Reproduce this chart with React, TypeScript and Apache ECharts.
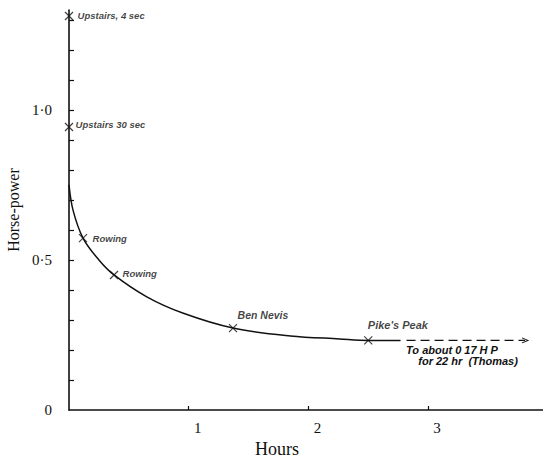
import React, { useEffect, useRef } from "react";
import * as echarts from "echarts";

// Smooth curve (hours, horse-power)
const curveHours = [0, 0.033, 0.117, 0.25, 0.376, 0.65, 0.95, 1.37, 1.85, 2.26, 2.5, 2.77];
const curveHP = [0.75, 0.667, 0.573, 0.5, 0.45, 0.377, 0.323, 0.273, 0.247, 0.237, 0.232, 0.232];

// Marked observations
const pointNames = ["Upstairs, 4 sec", "Upstairs 30 sec", "Rowing", "Rowing", "Ben Nevis", "Pike's Peak"];
const pointHours = [0, 0, 0.117, 0.376, 1.37, 2.5];
const pointHP = [1.313, 0.943, 0.573, 0.45, 0.273, 0.232];

// Dashed extension
const dashHours = [2.82, 3.81];
const dashHP = [0.232, 0.232];
const noteLines = ["To about 0 17 H P", "    for 22 hr  (Thomas)"];

// Axis ticks
const yTickValues = [0.1, 0.2, 0.3, 0.4, 0.5, 0.6, 0.7, 0.8, 0.9, 1.0, 1.1, 1.2, 1.3];
const yLabelValues = [0, 0.5, 1.0];
const xTickValues = [1, 2, 3];

// label placement (style only)
const labelPlacement = [
  { distance: 4, offset: [0, -1], size: 9.5 },
  { distance: 2, offset: [0, -3], size: 9.5 },
  { distance: 5, offset: [0, 0], size: 9.5 },
  { distance: 4, offset: [0, -1], size: 9.5 },
  { distance: 4, offset: [-4, -13], size: 10.5 },
  { distance: 4, offset: [-9, -15], size: 11 },
];

const INK = "#111111";
const SERIF = "'Liberation Serif', 'DejaVu Serif', serif";
const HAND = "'Liberation Sans', 'DejaVu Sans', sans-serif";

export default function App() {
  const ref = useRef<HTMLDivElement>(null);
  useEffect(() => {
    if (!ref.current) return;
    const chart = echarts.init(ref.current, undefined, { renderer: "svg" });
    const cross = "path://M0 0L10 10M10 0L0 10";
    const handFont = { fontFamily: HAND, fontStyle: "italic", fontWeight: "bold", fontSize: 9.5, color: INK };
    chart.setOption({
      animation: false,
      backgroundColor: "#ffffff",
      grid: { left: 69, right: 0, top: 10, bottom: 48, containLabel: false, outerBoundsMode: "none" },
      xAxis: {
        type: "value",
        min: 0,
        max: 3.96,
        interval: 1,
        name: "Hours",
        nameLocation: "middle",
        nameGap: 30,
        nameTextStyle: { fontFamily: SERIF, fontSize: 18, color: INK, padding: [0, 58, 0, 0] },
        axisLine: { show: true, onZero: false, lineStyle: { color: INK, width: 1.6 } },
        axisTick: { show: true, inside: true, length: 4, customValues: xTickValues, lineStyle: { color: INK, width: 1.2 } },
        axisLabel: {
          customValues: xTickValues,
          fontFamily: SERIF,
          fontSize: 15,
          color: INK,
          margin: 10,
          padding: [0, 0, 0, 18],
          formatter: (v: number) => String(v),
        },
        splitLine: { show: false },
      },
      yAxis: {
        type: "value",
        min: 0,
        max: 1.333,
        name: "Horse-power",
        nameLocation: "middle",
        nameGap: 46,
        nameTextStyle: { fontFamily: SERIF, fontSize: 16, color: INK },
        axisLine: { show: true, onZero: false, lineStyle: { color: INK, width: 1.6 } },
        axisTick: { show: true, inside: true, length: 5, customValues: yTickValues, lineStyle: { color: INK, width: 1.2 } },
        axisLabel: {
          customValues: yLabelValues,
          fontFamily: SERIF,
          fontSize: 15,
          color: INK,
          margin: 17,
          formatter: (v: number) => (v === 0 ? "0" : v.toFixed(1).replace(".", "\u00b7")),
        },
        splitLine: { show: false },
      },
      series: [
        {
          type: "line",
          data: curveHours.map((h, i) => [h, curveHP[i]]),
          smooth: 0.35,
          showSymbol: false,
          lineStyle: { color: INK, width: 1.5 },
          silent: true,
        },
        {
          type: "line",
          data: dashHours.map((h, i) =>
            i === dashHours.length - 1
              ? { value: [h, dashHP[i]], symbol: "path://M0 0L10 5L0 10", symbolSize: [6, 5] }
              : {
                  value: [h, dashHP[i]],
                  symbol: "circle",
                  symbolSize: 1,
                  itemStyle: { color: "transparent", borderColor: "transparent", borderWidth: 0 },
                  label: {
                    show: true,
                    position: "right",
                    distance: 0,
                    offset: [-1, 15],
                    formatter: noteLines.join("\n"),
                    lineHeight: 11,
                    ...handFont,
                    fontSize: 11,
                  },
                }
          ),
          showSymbol: true,
          lineStyle: { color: INK, width: 1.3, type: [9, 5] },
          itemStyle: { color: "transparent", borderColor: INK, borderWidth: 1 },
          silent: true,
        },
        {
          type: "scatter",
          symbol: cross,
          symbolSize: 8,
          itemStyle: { color: "transparent", borderColor: INK, borderWidth: 1.2 },
          data: pointNames.map((n, i) => ({
            name: n,
            value: [pointHours[i], pointHP[i]],
            label: {
              show: true,
              position: "right",
              distance: labelPlacement[i].distance,
              offset: labelPlacement[i].offset,
              formatter: n,
              ...handFont,
              fontSize: labelPlacement[i].size,
            },
          })),
          silent: true,
          z: 5,
        },
      ],
    });
    return () => chart.dispose();
  }, []);
  return <div ref={ref} style={{ position: "fixed", left: 0, top: 0, width: 543, height: 458 }} />;
}
